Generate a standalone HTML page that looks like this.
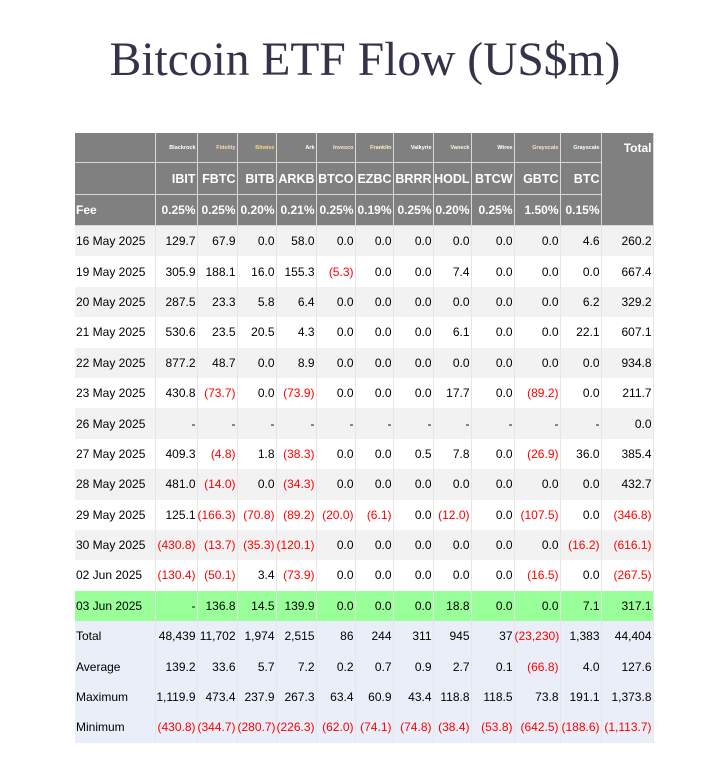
<!DOCTYPE html>
<html><head><meta charset="utf-8">
<style>
body{margin:0;background:#fff;width:718px;height:763px;overflow:hidden;font-family:"Liberation Sans",Arial,sans-serif;}
#title{position:absolute;left:0;width:730px;top:30px;text-align:center;font-family:"Liberation Serif",serif;font-size:47.5px;color:#33334a;line-height:60px;}
table{position:absolute;left:75px;top:133px;border-collapse:collapse;font-size:12px;color:#000;table-layout:fixed;width:578px;}
td{padding:0 1px 0 0;text-align:right;white-space:nowrap;overflow:visible;border-right:1px solid #e6e6e6;}
td:first-child{text-align:left;padding-left:1px;}
tr.h td{background:#808080;color:#fff;font-weight:bold;border-right:1px solid #d9d9d9;border-bottom:1px solid #d9d9d9;}
tr.h1 td{font-size:5.5px;height:29px;}
tr.h1 td.tot{font-size:12px;vertical-align:top;padding-top:8px;}
tr.h2 td{font-size:12.5px;height:31px;font-weight:bold;}
tr.h3 td{font-size:12px;height:30px;}
tr.d td{height:30.4px;}
tr.d:nth-child(even) td{background:#f2f2f2;}
tr.d:nth-child(odd) td{background:#fff;}
tr.g td{background:#99ff99 !important;}
tr.s td{background:#eaeef8;height:30.4px;}
.neg{color:#ff0000;}
</style></head><body>
<div id="title">Bitcoin ETF Flow (US$m)</div>
<table id="t">
<colgroup><col style="width:80px"><col style="width:42px"><col style="width:40px"><col style="width:39px"><col style="width:40px"><col style="width:39px"><col style="width:38px"><col style="width:40px"><col style="width:38px"><col style="width:43px"><col style="width:46px"><col style="width:41px"><col style="width:52px"></colgroup>
<tbody id="tb"></tbody></table>
<script>
const issuers=["Blackrock","Fidelity","Bitwise","Ark","Invesco","Franklin","Valkyrie","Vaneck","Wtree","Grayscale","Grayscale"];
const issuerColors=["#fff","#f5deb3","#ffd27f","#fff","#ffe4c4","#fff0c0","#fff","#fff5dd","#fff","#ffe0c0","#fff"];
const tickers=["IBIT","FBTC","BITB","ARKB","BTCO","EZBC","BRRR","HODL","BTCW","GBTC","BTC"];
const fees=["0.25%","0.25%","0.20%","0.21%","0.25%","0.19%","0.25%","0.20%","0.25%","1.50%","0.15%"];
const dates=["16 May 2025","19 May 2025","20 May 2025","21 May 2025","22 May 2025","23 May 2025","26 May 2025","27 May 2025","28 May 2025","29 May 2025","30 May 2025","02 Jun 2025","03 Jun 2025"];
const flows=[
["129.7","67.9","0.0","58.0","0.0","0.0","0.0","0.0","0.0","0.0","4.6","260.2"],
["305.9","188.1","16.0","155.3","(5.3)","0.0","0.0","7.4","0.0","0.0","0.0","667.4"],
["287.5","23.3","5.8","6.4","0.0","0.0","0.0","0.0","0.0","0.0","6.2","329.2"],
["530.6","23.5","20.5","4.3","0.0","0.0","0.0","6.1","0.0","0.0","22.1","607.1"],
["877.2","48.7","0.0","8.9","0.0","0.0","0.0","0.0","0.0","0.0","0.0","934.8"],
["430.8","(73.7)","0.0","(73.9)","0.0","0.0","0.0","17.7","0.0","(89.2)","0.0","211.7"],
["-","-","-","-","-","-","-","-","-","-","-","0.0"],
["409.3","(4.8)","1.8","(38.3)","0.0","0.0","0.5","7.8","0.0","(26.9)","36.0","385.4"],
["481.0","(14.0)","0.0","(34.3)","0.0","0.0","0.0","0.0","0.0","0.0","0.0","432.7"],
["125.1","(166.3)","(70.8)","(89.2)","(20.0)","(6.1)","0.0","(12.0)","0.0","(107.5)","0.0","(346.8)"],
["(430.8)","(13.7)","(35.3)","(120.1)","0.0","0.0","0.0","0.0","0.0","0.0","(16.2)","(616.1)"],
["(130.4)","(50.1)","3.4","(73.9)","0.0","0.0","0.0","0.0","0.0","(16.5)","0.0","(267.5)"],
["-","136.8","14.5","139.9","0.0","0.0","0.0","18.8","0.0","0.0","7.1","317.1"]];
const sumLabels=["Total","Average","Maximum","Minimum"];
const sums=[
["48,439","11,702","1,974","2,515","86","244","311","945","37","(23,230)","1,383","44,404"],
["139.2","33.6","5.7","7.2","0.2","0.7","0.9","2.7","0.1","(66.8)","4.0","127.6"],
["1,119.9","473.4","237.9","267.3","63.4","60.9","43.4","118.8","118.5","73.8","191.1","1,373.8"],
["(430.8)","(344.7)","(280.7)","(226.3)","(62.0)","(74.1)","(74.8)","(38.4)","(53.8)","(642.5)","(188.6)","(1,113.7)"]];
const tb=document.getElementById('tb');
function row(cls,name){const r=document.createElement('tr');r.className=cls;


tb.appendChild(r);return r;}
function cell(r,txt,name){const c=document.createElement('td');c.textContent=txt;


if(/^\(/.test(txt))c.className='neg';r.appendChild(c);return c;}
let r=row('h h1','issuer-header-row');cell(r,'','header-blank');
issuers.forEach((s,i)=>{const c=cell(r,s,'issuer-'+tickers[i].toLowerCase());c.style.color=issuerColors[i];});
let t=cell(r,'Total','total-header');t.className='tot';t.rowSpan=3;
r=row('h h2','ticker-header-row');cell(r,'','header-blank');
tickers.forEach(s=>cell(r,s,'ticker-'+s.toLowerCase()));
r=row('h h3','fee-row');cell(r,'Fee','fee-label');
fees.forEach((s,i)=>cell(r,s,'fee-'+tickers[i].toLowerCase()));
dates.forEach((d,i)=>{const rr=row('d'+(i==dates.length-1?' g':''),'flow-row');cell(rr,d,'date-cell');
flows[i].forEach(v=>cell(rr,v,'flow-value'));});
sumLabels.forEach((l,i)=>{const rr=row('s',l.toLowerCase()+'-row');cell(rr,l,'summary-label');
sums[i].forEach(v=>cell(rr,v,'summary-value'));});
</script>
</body></html>
